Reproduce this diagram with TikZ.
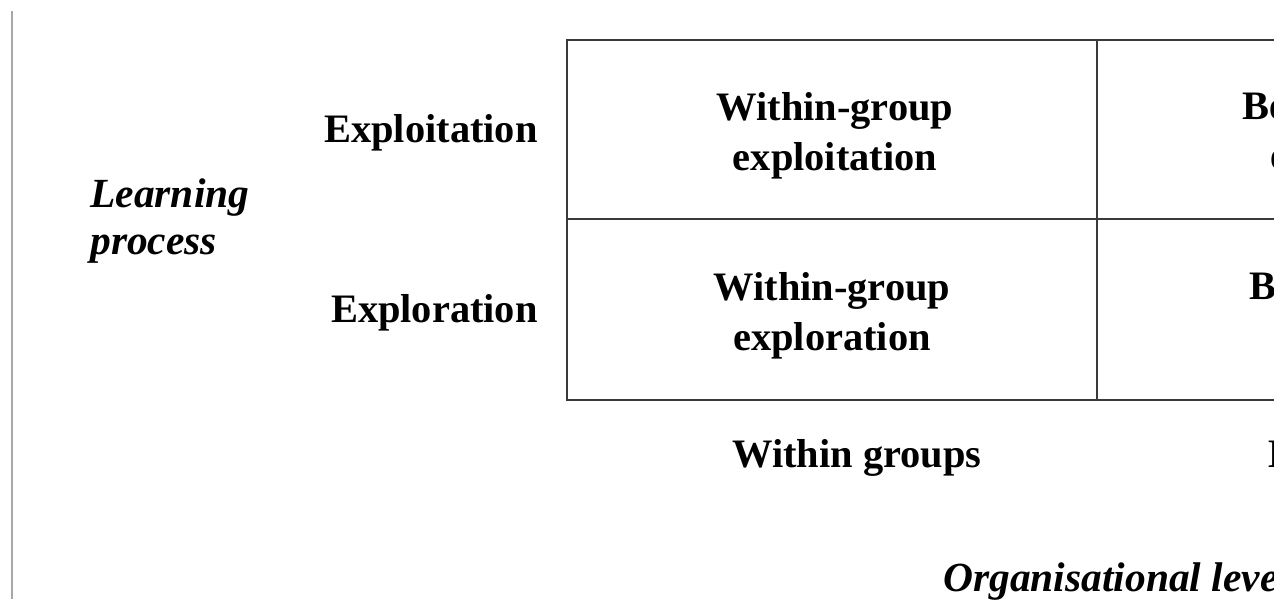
\documentclass[tikz,border=0pt]{standalone}
\usepackage{fontspec}
\setmainfont{Liberation Serif}
\definecolor{rule}{HTML}{3a3a3a}
\definecolor{margin}{HTML}{a8a8a8}

\begin{document}
\begin{tikzpicture}[
  x=0.02cm, y=-0.02cm,
  cellt/.style={font=\fontsize{23}{28.5}\selectfont\bfseries, align=center, inner sep=0pt},
  side/.style={font=\fontsize{23}{28.5}\selectfont\bfseries, inner sep=0pt},
  axis/.style={font=\fontsize{23.6}{27}\selectfont\bfseries\itshape, inner sep=0pt},
  gridline/.style={rule, line width=1.2pt},
]
\useasboundingbox (0,0) rectangle (1274,599);
\clip (0,0) rectangle (1274,599);

% ---- page margin ----
\draw[margin, line width=1.2pt] (12,11) -- (12,599);

% ---- the 2x2 grid; its right half runs off the page ----
\def\xl{567}
\def\xm{1097}
\def\xr{1627}
\draw[gridline] (\xl,40) rectangle (\xr,400);
\draw[gridline] (\xl,219) -- (\xr,219);
\draw[gridline] (\xm,40) -- (\xm,400);

% ---- cell texts ----
\node[cellt] (wexpl) at (835,136) {Within-group\\exploitation};
\node[cellt] (bexpl) at (1373,136) {Between-group\\exploitation};
\node[cellt] (wexpr) at (832,316) {Within-group\\exploration};
\node[cellt] (bexpr) at (1380,316) {Between-group\\exploration};

% ---- row labels ----
\node[side, anchor=base east] (exploit) at (538,142) {Exploitation};
\node[side, anchor=base east] (explore) at (538,322) {Exploration};
\node[axis, align=left, anchor=west] (learn) at (90,221) {Learning\\process};

% ---- column labels ----
\node[side, anchor=base] (within) at (857,467) {Within groups};
\node[side, anchor=base] (between) at (1406,467) {Between groups};
\node[axis, anchor=base west] (orglev) at (943,591) {Organisational level};
\end{tikzpicture}
\end{document}
